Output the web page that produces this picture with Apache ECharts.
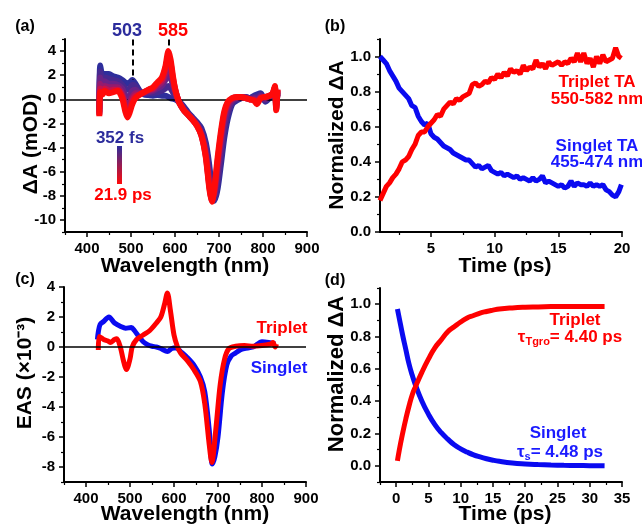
<!DOCTYPE html>
<html>
<head>
<meta charset="utf-8">
<script src="https://cdn.jsdelivr.net/npm/echarts@6/dist/echarts.min.js"></script>
<style>html,body{margin:0;padding:0;background:#fff}#c{width:642px;height:527px}</style>
</head>
<body>
<div id="c"></div>
<script>
// ---------- Panel (a): TA spectra, 352 fs (blue) -> 21.9 ps (red) ----------
const wlA = [428,430,435,440,450,460,470,480,487,492,497,503,510,520,530,540,550,560,570,578,585,590,595,600,605,610,620,630,640,650,660,670,678,684,690,697,705,712,720,730,740,750,760,770,780,786,795,805,815,822,827,830,833];
const specEarly = [-0.8,2.8,2.0,2.1,2.1,1.9,1.8,1.6,1.4,1.3,1.4,1.6,1.3,0.7,0.4,0.35,0.3,0.35,0.3,0.3,0.2,0.1,0.05,0.0,-0.1,-0.2,-0.6,-1.1,-1.5,-1.9,-2.4,-3.6,-5.5,-7.5,-8.4,-7.4,-5.2,-3.2,-1.6,-0.4,-0.1,0.1,0.2,0.1,0.3,0.4,0.5,-0.2,0.1,0.3,0.6,-0.1,0.4];
const specMid1 = [-1.0,2.3,1.7,1.8,1.7,1.6,1.5,1.2,0.9,0.8,0.9,1.2,1.1,0.6,0.5,0.5,0.5,0.6,0.7,0.9,1.1,0.9,0.6,0.3,0.0,-0.2,-0.7,-1.2,-1.6,-2.0,-2.6,-3.9,-6.0,-7.8,-8.2,-6.9,-4.6,-2.7,-1.2,-0.3,0.0,0.1,0.2,0.1,0.2,0.2,0.4,-0.1,0.2,0.3,0.8,-0.3,0.5];
const specMid2 = [-1.1,1.8,1.3,1.5,1.3,1.3,1.2,0.9,0.3,0.1,0.3,0.7,0.8,0.5,0.5,0.6,0.7,0.9,1.1,1.6,2.1,1.8,1.2,0.6,0.1,-0.2,-0.8,-1.2,-1.6,-2.1,-2.8,-4.2,-6.6,-8.1,-7.9,-6.1,-3.8,-2.0,-0.8,-0.1,0.1,0.1,0.2,0.0,0.1,0.0,0.3,0.0,0.2,0.4,0.9,-0.5,0.6];
const specMid3 = [-1.2,1.3,0.9,1.1,1.0,1.0,1.0,0.5,-0.3,-0.6,-0.3,0.2,0.5,0.5,0.6,0.7,0.8,1.1,1.4,2.1,3.0,2.6,1.6,0.8,0.2,-0.3,-0.9,-1.3,-1.7,-2.1,-2.9,-4.5,-7.0,-8.3,-7.6,-5.4,-3.1,-1.4,-0.5,0.0,0.1,0.2,0.1,0.0,0.0,-0.2,0.2,0.1,0.3,0.4,1.0,-0.7,0.7];
const specMid4 = [-1.3,0.9,0.6,0.9,0.7,0.8,0.8,0.3,-0.7,-1.1,-0.8,-0.1,0.3,0.4,0.6,0.8,0.9,1.3,1.6,2.5,3.6,3.0,1.8,0.9,0.2,-0.3,-0.9,-1.3,-1.7,-2.2,-3.0,-4.7,-7.2,-8.4,-7.4,-5.1,-2.8,-1.2,-0.3,0.1,0.2,0.2,0.1,0.0,-0.1,-0.3,0.1,0.2,0.3,0.5,1.0,-0.8,0.8];
const specLate = [-1.4,0.6,0.4,0.7,0.5,0.6,0.7,0.1,-1.0,-1.5,-1.1,-0.4,0.1,0.4,0.6,0.8,1.0,1.4,1.8,2.7,4.0,3.3,2.0,0.9,0.2,-0.3,-0.9,-1.3,-1.7,-2.2,-3.0,-4.8,-7.4,-8.5,-7.2,-4.8,-2.5,-1.0,-0.2,0.1,0.2,0.2,0.1,0.0,-0.1,-0.4,0.1,0.2,0.3,0.5,1.1,-0.9,0.8];
const spectraA = [specEarly, specMid1, specMid2, specMid3, specMid4, specLate];
const colorsA = ['#2e2e9c','#47298f','#692386','#951b6e','#c8124a','#ff0a0a'];

// ---------- Panel (b): kinetics ----------
const timeB = [1.0,1.25,1.5,1.75,2.0,2.25,2.5,2.75,3.0,3.25,3.5,3.75,4.0,4.25,4.5,4.75,5.0,5.25,5.5,5.75,6.0,6.25,6.5,6.75,7.0,7.25,7.5,7.75,8.0,8.25,8.5,8.75,9.0,9.25,9.5,9.75,10.0,10.25,10.5,10.75,11.0,11.25,11.5,11.75,12.0,12.25,12.5,12.75,13.0,13.25,13.5,13.75,14.0,14.25,14.5,14.75,15.0,15.25,15.5,15.75,16.0,16.25,16.5,16.75,17.0,17.25,17.5,17.75,18.0,18.25,18.5,18.75,19.0,19.25,19.5,19.75,19.95];
const singletTA = [1.00,0.98,0.96,0.92,0.89,0.86,0.82,0.80,0.78,0.76,0.72,0.71,0.66,0.63,0.61,0.62,0.56,0.54,0.53,0.51,0.49,0.48,0.47,0.45,0.44,0.43,0.42,0.41,0.41,0.39,0.37,0.38,0.36,0.37,0.38,0.35,0.34,0.33,0.34,0.32,0.33,0.32,0.31,0.32,0.30,0.31,0.30,0.29,0.31,0.29,0.30,0.32,0.28,0.29,0.28,0.27,0.26,0.27,0.25,0.26,0.29,0.26,0.28,0.27,0.27,0.26,0.28,0.26,0.27,0.26,0.27,0.24,0.23,0.21,0.20,0.23,0.27];
const tripletTA = [0.18,0.22,0.26,0.28,0.31,0.33,0.36,0.40,0.41,0.43,0.47,0.50,0.55,0.57,0.57,0.60,0.62,0.64,0.67,0.66,0.70,0.72,0.74,0.73,0.76,0.75,0.77,0.78,0.79,0.84,0.85,0.83,0.84,0.86,0.85,0.88,0.87,0.90,0.88,0.91,0.89,0.93,0.91,0.92,0.90,0.95,0.92,0.94,0.93,0.98,0.94,0.96,0.93,0.97,0.95,0.96,0.97,0.95,0.97,0.96,0.99,0.97,1.02,0.97,1.02,0.96,0.99,0.94,1.00,0.96,1.01,0.97,0.98,0.99,1.05,1.00,0.99];

// ---------- Panel (c): EAS ----------
const wlSingletC = [426,428,432,440,452,465,480,490,503,510,520,530,540,550,560,570,585,595,605,615,630,645,660,670,680,687,693,700,710,720,730,740,750,760,780,800,815,830];
const easSinglet = [0.5,1.0,1.5,1.7,2.0,1.6,1.35,1.25,1.3,1.1,0.7,0.35,0.15,0.05,0.0,-0.1,-0.3,-0.1,-0.05,-0.3,-0.7,-1.2,-2.0,-3.0,-5.5,-7.8,-7.3,-6.0,-3.0,-1.2,-0.6,-0.4,-0.2,-0.1,0.0,0.35,0.3,0.2];
const wlTripletC = [428,430,440,450,455,465,470,478,485,492,500,505,515,530,545,560,570,578,585,592,600,608,615,630,645,660,670,680,686,695,705,715,725,740,760,780,800,820,825,830,833];
const easTriplet = [-0.2,0.7,0.5,0.4,0.3,0.5,0.55,0.0,-0.9,-1.5,-0.8,0.0,0.5,0.8,1.1,1.6,2.0,2.8,3.6,2.4,0.8,0.0,-0.4,-0.9,-1.5,-2.3,-3.8,-6.5,-7.7,-5.5,-2.5,-0.8,-0.1,0.05,0.1,0.05,0.1,0.2,0.3,0.0,0.2];

// ---------- Panel (d): fitted kinetics ----------
const timeD = [0.2,0.5,1,1.5,2,2.5,3,4,5,6,7,8,9,10,11,12,13,14,15,16,18,20,22,24,26,28,30,32.3];
const singletFit = [0.97,0.91,0.81,0.72,0.63,0.56,0.50,0.40,0.32,0.255,0.205,0.165,0.13,0.105,0.085,0.068,0.055,0.044,0.035,0.028,0.018,0.012,0.008,0.005,0.003,0.002,0.001,0.0];
const tripletFit = [0.03,0.10,0.20,0.29,0.37,0.44,0.49,0.58,0.66,0.73,0.78,0.83,0.86,0.89,0.915,0.93,0.945,0.955,0.963,0.97,0.977,0.981,0.983,0.985,0.986,0.986,0.986,0.986];

// ---------- Tick labels ----------
const wlTicks = [400,500,600,700,800,900];
const wlMinor = [350,450,550,650,750,850];
const yTicksA = [-10,-8,-6,-4,-2,0,2,4];
const yMinorA = [-11,-9,-7,-5,-3,-1,1,3,5];
const xTicksB = [5,10,15,20];
const xMinorB = [2.5,7.5,12.5,17.5];
const normTicks = [0.0,0.2,0.4,0.6,0.8,1.0];
const normMinorB = [0.1,0.3,0.5,0.7,0.9,1.1];
const yTicksC = [-8,-6,-4,-2,0,2,4];
const yMinorC = [-9,-7,-5,-3,-1,1,3];
const xTicksD = [0,5,10,15,20,25,30,35];
const xMinorD = [-2.5,2.5,7.5,12.5,17.5,22.5,27.5,32.5];
const normMinorD = [-0.1,0.1,0.3,0.5,0.7,0.9,1.1];

const FONT = "'Liberation Sans', Arial, Helvetica, sans-serif";
const BLUE = '#0a0af0', RED = '#ff0000', NAVY = '#2c2c9c', TXTBLUE = '#1a1aff';

function axes(kind, grid, min, max, majors, minors, fmt) {
  const main = {
    type: 'value', gridIndex: grid, min: min, max: max,
    position: kind === 'x' ? 'bottom' : 'left',
    axisLine: { show: true, onZero: false, lineStyle: { color: '#000', width: 2 } },
    axisTick: { show: true, inside: false, length: 5, customValues: majors, lineStyle: { color: '#000', width: 1.5 } },
    axisLabel: { show: true, customValues: majors, margin: kind === 'x' ? 9 : 9, color: '#000', fontSize: 15, fontWeight: 'bold', fontFamily: FONT, formatter: fmt },
    splitLine: { show: false }
  };
  const minor = {
    type: 'value', gridIndex: grid, min: min, max: max,
    position: kind === 'x' ? 'bottom' : 'left',
    axisLine: { show: false, onZero: false },
    axisTick: { show: true, inside: false, length: 3, customValues: minors, lineStyle: { color: '#000', width: 1.2 } },
    axisLabel: { show: false },
    splitLine: { show: false }
  };
  return [main, minor];
}
const intFmt = v => String(Math.round(v));
const oneFmt = v => v.toFixed(1);

const xAxes = [].concat(
  axes('x', 0, 350, 900, wlTicks, wlMinor, intFmt),
  axes('x', 1, 1, 20, xTicksB, xMinorB, intFmt),
  axes('x', 2, 350, 900, wlTicks, wlMinor, intFmt),
  axes('x', 3, -2.5, 35, xTicksD, xMinorD, intFmt)
);
const yAxes = [].concat(
  axes('y', 0, -11, 5, yTicksA, yMinorA, intFmt),
  axes('y', 1, 0, 1.1, normTicks, normMinorB, oneFmt),
  axes('y', 2, -9, 4, yTicksC, yMinorC, intFmt),
  axes('y', 3, -0.1, 1.1, normTicks, normMinorD, oneFmt)
);

function pairs(xs, ys) { return xs.map((x, i) => [x, ys[i]]); }

const series = [];
spectraA.forEach((sp, k) => {
  const s = {
    type: 'line', xAxisIndex: 0, yAxisIndex: 0, data: pairs(wlA, sp),
    showSymbol: false, symbol: 'none', smooth: 0.25,
    lineStyle: { color: colorsA[k], width: 6 }, z: 2 + k, silent: true
  };
  if (k === 0) {
    s.markLine = {
      silent: true, symbol: 'none', animation: false, label: { show: false },
      data: [
        [{ coord: [350, 0], lineStyle: { color: '#000', width: 1.5, type: 'solid' } }, { coord: [900, 0] }],
        [{ coord: [503, 4.95], lineStyle: { color: '#000', width: 2, type: [6, 4] } }, { coord: [503, 1.6] }],
        [{ coord: [585, 4.95], lineStyle: { color: '#000', width: 2, type: [6, 4] } }, { coord: [585, 4.2] }]
      ]
    };
  }
  series.push(s);
});
series.push({ type: 'line', xAxisIndex: 2, yAxisIndex: 2, data: pairs(timeB, singletTA), symbol: 'none', lineStyle: { color: BLUE, width: 5 } });
series.push({ type: 'line', xAxisIndex: 2, yAxisIndex: 2, data: pairs(timeB, tripletTA), symbol: 'none', lineStyle: { color: RED, width: 5 } });
series.push({
  type: 'line', xAxisIndex: 4, yAxisIndex: 4, data: pairs(wlSingletC, easSinglet), symbol: 'none', smooth: 0.3,
  lineStyle: { color: BLUE, width: 5 },
  markLine: { silent: true, symbol: 'none', label: { show: false }, data: [[{ coord: [350, 0], lineStyle: { color: '#000', width: 1.5, type: 'solid' } }, { coord: [900, 0] }]] }
});
series.push({ type: 'line', xAxisIndex: 4, yAxisIndex: 4, data: pairs(wlTripletC, easTriplet), symbol: 'none', smooth: 0.3, lineStyle: { color: RED, width: 5 } });
series.push({ type: 'line', xAxisIndex: 6, yAxisIndex: 6, data: pairs(timeD, singletFit), symbol: 'none', smooth: true, lineStyle: { color: BLUE, width: 5 } });
series.push({ type: 'line', xAxisIndex: 6, yAxisIndex: 6, data: pairs(timeD, tripletFit), symbol: 'none', smooth: true, lineStyle: { color: RED, width: 5 } });

function txt(x, y, text, size, color, extra) {
  return Object.assign({
    type: 'text', x: x, y: y, silent: true,
    style: { text: text, fill: color, font: 'bold ' + size + 'px ' + FONT, textAlign: 'center', textVerticalAlign: 'middle' }
  }, extra || {});
}
function vtxt(x, y, text, size) {
  return txt(x, y, text, size, '#000', { rotation: Math.PI / 2 });
}

const graphics = [
  txt(25, 27, '(a)', 16, '#000'), txt(335, 27, '(b)', 16, '#000'),
  txt(25, 280, '(c)', 16, '#000'), txt(335, 281, '(d)', 16, '#000'),
  vtxt(31, 144, 'ΔA (mOD)', 21), vtxt(337, 135, 'Normalized ΔA', 21),
  vtxt(25, 373, 'EAS (×10⁻³)', 21), vtxt(337, 374, 'Normalized ΔA', 22),
  txt(185, 266, 'Wavelength (nm)', 21, '#000'), txt(505, 266, 'Time (ps)', 21, '#000'),
  txt(185, 514, 'Wavelength (nm)', 21, '#000'), txt(505, 514, 'Time (ps)', 21, '#000'),
  txt(127, 31, '503', 18, NAVY), txt(173, 31, '585', 18, RED),
  txt(120, 138, '352 fs', 17, NAVY), txt(123, 195, '21.9 ps', 17, RED),
  {
    type: 'rect', silent: true, shape: { x: 117, y: 146, width: 5, height: 38 },
    style: { fill: { type: 'linear', x: 0, y: 0, x2: 0, y2: 1, colorStops: [{ offset: 0, color: '#2e2e9c' }, { offset: 1, color: '#ff0a0a' }] } }
  },
  txt(597, 82, 'Triplet TA', 17, RED), txt(597, 99, '550-582 nm', 17, RED),
  txt(597, 146, 'Singlet TA', 17, TXTBLUE), txt(597, 162, '455-474 nm', 17, TXTBLUE),
  txt(282, 328, 'Triplet', 17, RED), txt(279, 368, 'Singlet', 17, TXTBLUE),
  txt(575, 320, 'Triplet', 17, RED), txt(558, 433, 'Singlet', 17, TXTBLUE),
  {
    type: 'text', x: 570, y: 337, silent: true,
    style: {
      text: '{t|τ}{s|Tgro}{t|= 4.40 ps}', textAlign: 'center', textVerticalAlign: 'middle',
      rich: {
        t: { fill: RED, font: 'bold 17px ' + FONT },
        s: { fill: RED, font: 'bold 11px ' + FONT, padding: [9, 0, 0, 0] }
      }
    }
  },
  {
    type: 'text', x: 560, y: 452, silent: true,
    style: {
      text: '{t|τ}{s|s}{t|= 4.48 ps}', textAlign: 'center', textVerticalAlign: 'middle',
      rich: {
        t: { fill: TXTBLUE, font: 'bold 17px ' + FONT },
        s: { fill: TXTBLUE, font: 'bold 11px ' + FONT, padding: [9, 0, 0, 0] }
      }
    }
  }
];

const chart = echarts.init(document.getElementById('c'), null, { renderer: 'canvas' });
chart.setOption({
  animation: false,
  backgroundColor: '#fff',
  grid: [
    { left: 65, top: 39, width: 242, height: 193 },
    { left: 380, top: 39, width: 242, height: 193 },
    { left: 64, top: 287, width: 242, height: 195 },
    { left: 380, top: 288, width: 242, height: 194 }
  ],
  xAxis: xAxes,
  yAxis: yAxes,
  series: series,
  graphic: graphics
});
</script>
</body>
</html>
